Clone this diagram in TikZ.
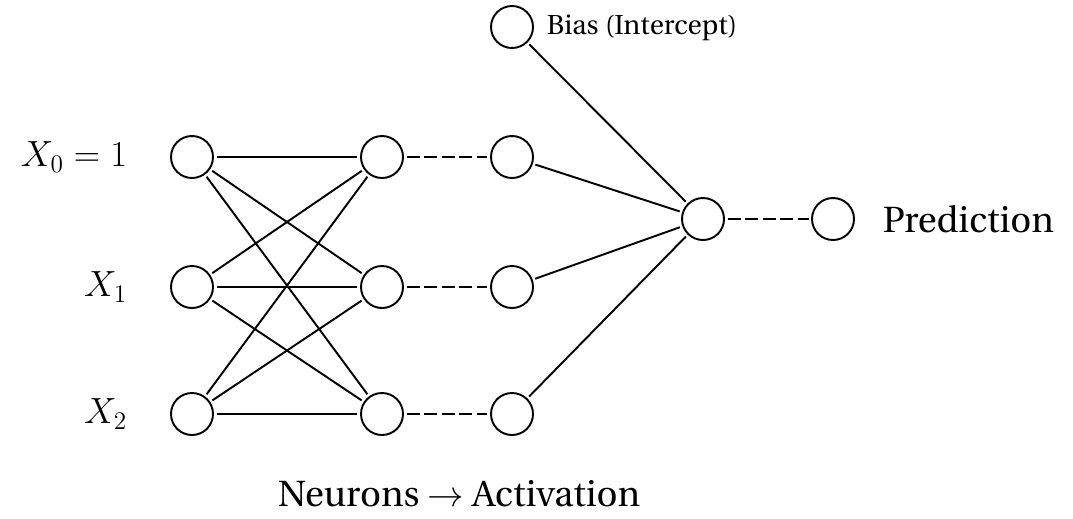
\documentclass[tikz,border=0pt]{standalone}
\usepackage[T1]{fontenc}
\renewcommand{\rmdefault}{put}
\usepackage{amssymb}
\usepackage{tikz}

\begin{document}
\begin{tikzpicture}[line width=1.1pt,
                    neuron/.style={circle, draw, minimum size=0.84cm,
                                  inner sep=0pt, outer sep=2pt},
                    dashlink/.style={dash pattern=on 7.5pt off 2.5pt},
                    tag/.style={inner sep=0pt}]
                      \useasboundingbox (0,0) rectangle (21.46,-10.36);

                      \foreach \i/\y/\t in {1/-3.14/{$X_0 = 1$}, 2/-5.74/{$X_1$},
                              3/-8.28/{$X_2$}} {
                              \node[neuron] (I\i) at (3.84,\y) {};
                              \node[neuron] (H\i) at (7.64,\y) {};
                              \node[neuron] (A\i) at (10.24,\y) {};
                              \node[tag, anchor=east, font=\huge] (L\i) at (2.56,\y) {\t};
                          }
                      \node[neuron] (B) at (10.24,-0.54) {};
                      \node[neuron] (O) at (14.06,-4.38) {};
                      \node[neuron] (P) at (16.66,-4.38) {};

                      \node[tag, anchor=west, font=\fontsize{15.6}{18}\selectfont] (BT) at (10.92,-0.56) {Bias (Intercept)};
                      \node[tag, anchor=west, font=\huge] (PT) at (17.64,-4.38) {Prediction};
                      \node[tag, font=\huge] (NT) at (9.18,-9.88) {Neurons $\rightarrow$ Activation};

                      \foreach \i in {1,2,3} {
                              \foreach \j in {1,2,3} {
                                      \draw (I\i) -- (H\j);
                                  }
                              \draw[dashlink] (H\i) -- (A\i);
                              \draw (A\i) -- (O);
                          }
                      \draw (B) -- (O);
                      \draw[dashlink] (O) -- (P);
                  \end{tikzpicture}
\end{document}
